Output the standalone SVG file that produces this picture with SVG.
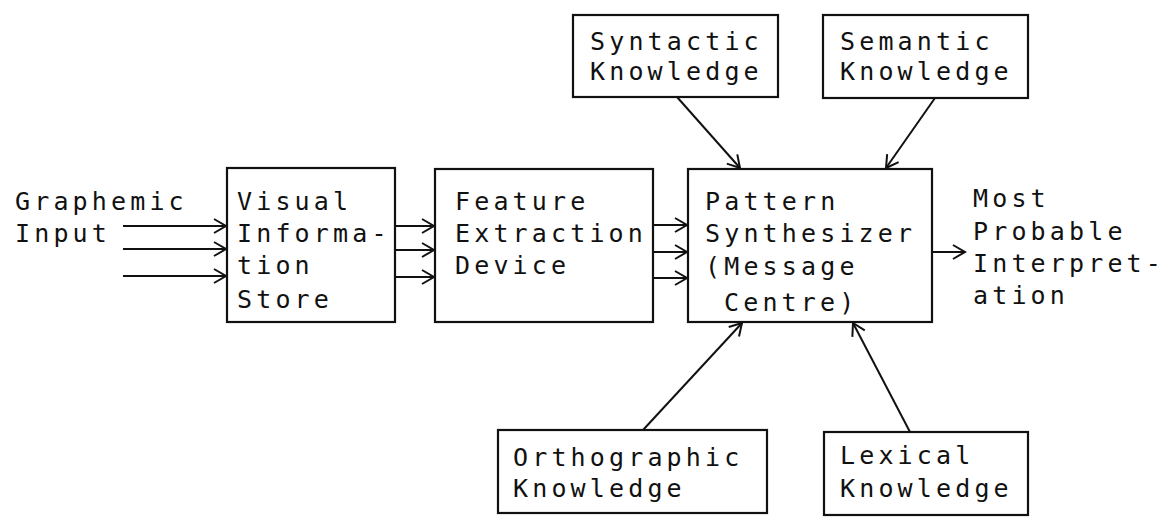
<svg xmlns="http://www.w3.org/2000/svg" width="1171" height="521" viewBox="0 0 1171 521">
<defs>
<style>
.box{fill:none;stroke:#111;stroke-width:2.2}
.t{font-family:"DejaVu Sans Mono","Liberation Mono",monospace;font-size:25px;letter-spacing:4.15px;fill:#111}
.c{fill:none;stroke:#111;stroke-width:2}
</style>
<marker id="ah" markerUnits="userSpaceOnUse" markerWidth="16" markerHeight="18" refX="13" refY="8" orient="auto" viewBox="0 0 16 16">
<path d="M1,1 L13,8 L1,15" fill="none" stroke="#111" stroke-width="2"/>
</marker>
</defs>
<rect width="1171" height="521" fill="#fff"/>
<g id="graphemic-input">
<text class="t" x="15" y="210">Graphemic</text>
<text class="t" x="15" y="242">Input</text>
</g>
<g id="visual-information-store">
<rect class="box" x="227" y="168" width="168" height="154"/>
<text class="t" x="237" y="210">Visual</text>
<text class="t" x="237" y="242">Informa-</text>
<text class="t" x="237" y="274">tion</text>
<text class="t" x="237" y="308">Store</text>
</g>
<g id="feature-extraction-device">
<rect class="box" x="435" y="169" width="218" height="153"/>
<text class="t" x="455" y="210">Feature</text>
<text class="t" x="455" y="242">Extraction</text>
<text class="t" x="455" y="274">Device</text>
</g>
<g id="pattern-synthesizer">
<rect class="box" x="688" y="169" width="244" height="153"/>
<text class="t" x="705" y="210">Pattern</text>
<text class="t" x="705" y="242">Synthesizer</text>
<text class="t" x="705" y="275">(Message</text>
<text class="t" x="724" y="311">Centre)</text>
</g>
<g id="most-probable-interpretation">
<text class="t" x="973" y="207">Most</text>
<text class="t" x="973" y="240">Probable</text>
<text class="t" x="973" y="272">Interpret-</text>
<text class="t" x="973" y="304">ation</text>
</g>
<g id="syntactic-knowledge">
<rect class="box" x="573" y="15" width="205" height="82"/>
<text class="t" x="590" y="50">Syntactic</text>
<text class="t" x="590" y="80">Knowledge</text>
</g>
<g id="semantic-knowledge">
<rect class="box" x="823" y="15" width="205" height="83"/>
<text class="t" x="840" y="50">Semantic</text>
<text class="t" x="840" y="80">Knowledge</text>
</g>
<g id="orthographic-knowledge">
<rect class="box" x="498" y="430" width="269" height="83"/>
<text class="t" x="513" y="466">Orthographic</text>
<text class="t" x="513" y="497">Knowledge</text>
</g>
<g id="lexical-knowledge">
<rect class="box" x="824" y="432" width="204" height="83"/>
<text class="t" x="840" y="464">Lexical</text>
<text class="t" x="840" y="497">Knowledge</text>
</g>
<g id="connectors">
<line class="c" x1="123" y1="226" x2="226" y2="226" marker-end="url(#ah)"/>
<line class="c" x1="123" y1="249" x2="226" y2="249" marker-end="url(#ah)"/>
<line class="c" x1="123" y1="276" x2="226" y2="276" marker-end="url(#ah)"/>
<line class="c" x1="395" y1="226" x2="434" y2="226" marker-end="url(#ah)"/>
<line class="c" x1="395" y1="250" x2="434" y2="250" marker-end="url(#ah)"/>
<line class="c" x1="395" y1="277" x2="434" y2="277" marker-end="url(#ah)"/>
<line class="c" x1="653" y1="225" x2="687" y2="225" marker-end="url(#ah)"/>
<line class="c" x1="653" y1="252" x2="687" y2="252" marker-end="url(#ah)"/>
<line class="c" x1="653" y1="278" x2="687" y2="278" marker-end="url(#ah)"/>
<line class="c" x1="932" y1="252" x2="965" y2="252" marker-end="url(#ah)"/>
<line class="c" x1="677" y1="97" x2="740" y2="168" marker-end="url(#ah)"/>
<line class="c" x1="935" y1="98" x2="886" y2="168" marker-end="url(#ah)"/>
<line class="c" x1="643" y1="430" x2="742" y2="323" marker-end="url(#ah)"/>
<line class="c" x1="910" y1="432" x2="853" y2="323" marker-end="url(#ah)"/>
</g>
</svg>
